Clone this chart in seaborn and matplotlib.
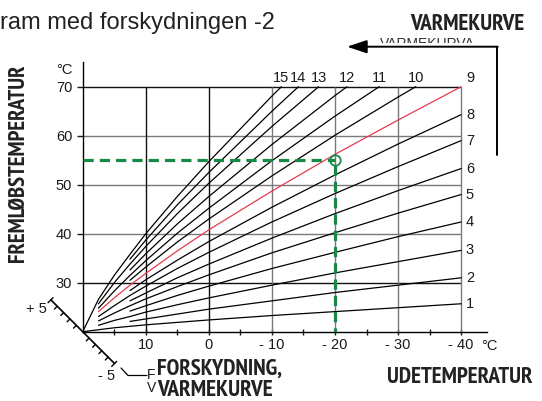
import os
import matplotlib
matplotlib.use("Agg")
import matplotlib.pyplot as plt
from matplotlib import font_manager
from matplotlib.font_manager import FontProperties
from matplotlib.lines import Line2D
from matplotlib.patches import Rectangle, FancyArrowPatch
import matplotlib.transforms as mtransforms
import numpy as np
import pandas as pd
import seaborn as sns

# --- data ---
outdoor_grid = [20, 17.5, 15, 12.5, 10, 5, 0, -10, -20, -30, -40]
flow_1 = [20.0, 20.4, 20.8, 21.1, 21.4, 21.9, 22.4, 23.3, 24.1, 24.9, 25.7]
flow_2 = [None, None, None, 22.1, 22.6, 23.6, 24.6, 26.3, 28.0, 29.5, 31.0]
flow_3 = [None, 21.3, 22.3, 23.1, 24.0, 25.5, 26.9, 29.5, 32.0, 34.3, 36.6]
flow_4 = [None, None, None, 24.2, 25.3, 27.4, 29.3, 32.9, 36.2, 39.4, 42.4]
flow_5 = [None, 22.2, 23.8, 25.3, 26.7, 29.2, 31.6, 36.1, 40.2, 44.2, 48.0]
flow_6 = [None, None, None, 26.3, 27.9, 31.0, 33.8, 39.1, 44.1, 48.8, 53.3]
flow_7 = [None, 23.1, 25.3, 27.4, 29.3, 32.9, 36.2, 42.4, 48.2, 53.7, 59.0]
flow_8 = [None, None, None, 28.4, 30.6, 34.6, 38.4, 45.4, 52.0, 58.3, 64.3]
flow_9 = [None, 24.1, 26.9, 29.5, 31.9, 36.5, 40.8, 48.7, 56.2, 63.2, 70.0]
flow_10 = [None, None, None, 30.5, 33.2, 38.3, 43.0, 51.8, 60.1, 67.9, None]
flow_11 = [None, 24.8, 28.3, 31.5, 34.5, 40.1, 45.2, 54.9, 64.0, None, None]
flow_12 = [None, None, None, 32.6, 35.9, 42.0, 47.6, 58.2, 68.2, None, None]
flow_13 = [None, 25.7, 30.0, 33.8, 37.4, 44.1, 50.3, 61.9, None, None, None]
flow_14 = [None, None, None, 34.8, 38.7, 45.9, 52.5, 65.0, None, None, None]
flow_15 = [20.0, 26.6, 31.5, 35.8, 40.0, 47.6, 54.7, 68.1, None, None, None]
# curves 10..15 run into the 70 degree line at these outdoor temps
top_reach_outdoor = [-32.8, -27.0, -21.9, -17.4, -14.2, -11.5]
top_flow = 70

example_outdoor = -20
example_flow = 55

y_ticks = [30, 40, 50, 60, 70]
x_ticks = [10, 0, -10, -20, -30, -40]
x_tick_labels = ["10", "0", "- 10", "- 20", "- 30", "- 40"]
x_minor = [15, 5, -5, -15, -25, -35]
offset_labels = ["+ 5", "- 5"]

flows = [flow_1, flow_2, flow_3, flow_4, flow_5, flow_6, flow_7, flow_8,
         flow_9, flow_10, flow_11, flow_12, flow_13, flow_14, flow_15]

rows = []
for n, fl in enumerate(flows, start=1):
    for t, v in zip(outdoor_grid, fl):
        if v is not None:
            rows.append((n, t, v))
    if n >= 10:
        rows.append((n, top_reach_outdoor[n - 10], top_flow))
df = pd.DataFrame(rows, columns=["curve", "outdoor", "flow"])

# --- style ---
sns.set_style("ticks")
plt.rcParams["font.family"] = ["Liberation Sans", "DejaVu Sans"]


def pick_condensed_bold():
    # labels in the original use a condensed bold face; take one if present
    prefs = ["narrow", "condensed"]
    found = []
    for f in font_manager.fontManager.ttflist:
        base = os.path.basename(f.fname).lower()
        if "bold" not in base or "italic" in base or "oblique" in base:
            continue
        if any(b in base for b in ("semibold", "extrabold", "semi-bold", "extra-bold",
                                   "semicondensed", "extracondensed", "ultracondensed")):
            continue
        for rank, key in enumerate(prefs):
            if key in base:
                score = rank
                if "liberation" in base:
                    score -= 10
                elif "noto" in base:
                    score -= 5
                found.append((score, f.fname))
    if found:
        found.sort()
        return FontProperties(fname=found[0][1]), 0.92
    return FontProperties(family="Liberation Sans", weight="bold"), 1.0


COND, COND_SCALE = pick_condensed_bold()

RED = "#e63a4f"
GREEN = "#138a45"
DARK = "#111111"
GREY = "#7a7a7a"
TXT = "#1a1a1a"

W, H = 542, 401
fig = plt.figure(figsize=(W / 100, H / 100), dpi=100)
x0, y0, x1, y1 = 82.7, 331.7, 487.0, 62.0
ax = fig.add_axes([x0 / W, 1 - y0 / H, (x1 - x0) / W, (y0 - y1) / H])
ax.set_xlim(20, -44.1)
ax.set_ylim(20, 75.05)
renderer = fig.canvas.get_renderer()


def fpx(x, y):
    return x / W, 1 - y / H


def cond_text(x, y, s, span, size=16, vertical=False, **kw):
    t = fig.text(*fpx(x, y), s, fontproperties=COND, color="#222", **kw)
    t.set_fontsize(size)
    bb = t.get_window_extent(renderer)
    cur = bb.height if vertical else bb.width
    t.set_fontsize(size * span / cur * COND_SCALE)
    return t


# grid (only inside the 20..-40 / 20..70 box)
for yv in y_ticks:
    ax.hlines(yv, 20, -40, color=DARK if yv in (30, 70) else GREY, lw=1.0, zorder=1)
for xv in x_ticks:
    ax.vlines(xv, 20, 70, color=DARK if xv in (10, 0) else GREY, lw=1.0, zorder=1)

palette = {n: (RED if n == 9 else "black") for n in range(1, 16)}
sns.lineplot(data=df, x="outdoor", y="flow", hue="curve", palette=palette,
             estimator=None, legend=False, linewidth=0.9, ax=ax, zorder=3)

# worked example: 55 degrees at -20 outside
ax.plot([20, example_outdoor], [example_flow, example_flow], color=GREEN, lw=2.3,
        dashes=(3.2, 1.9), zorder=4)
ax.plot([example_outdoor, example_outdoor], [example_flow - 0.9, 20], color=GREEN, lw=2.3,
        dashes=(3.2, 1.9), zorder=4)
ax.plot([example_outdoor], [example_flow], marker="o", ms=7.5, mfc="none", mec=GREEN,
        mew=1.3, zorder=5)

# curve numbers
for n in range(1, 9):
    ax.text(-41.4, flows[n - 1][-1], str(n), ha="center", va="center", fontsize=10.5, color=TXT)
ax.text(-41.4, 71.7, "9", ha="center", va="center", fontsize=10.5, color=TXT)
for n, t in zip(range(10, 16), top_reach_outdoor):
    ax.text(t, 71.7, str(n), ha="center", va="center", fontsize=10.5, color=TXT)

# axes look
for s in ("top", "right"):
    ax.spines[s].set_visible(False)
for s in ("left", "bottom"):
    ax.spines[s].set_color("black")
    ax.spines[s].set_linewidth(1.0)
ax.set_yticks(y_ticks)
ax.set_yticklabels([str(v) for v in y_ticks])
ax.set_xticks(x_ticks, labels=x_tick_labels)
ax.set_xticks(x_minor, minor=True)
ax.tick_params(axis="y", direction="out", length=4.3, width=1.0, pad=3.2,
               labelsize=10.5, colors=TXT, left=True)
ax.tick_params(axis="x", which="both", direction="inout", length=4.5, width=1.0, pad=2.0,
               labelsize=10.5, colors=TXT, bottom=True)
ax.set_xlabel("")
ax.set_ylabel("")

# offset scale at the origin (drawn in pixels around the 20/20 corner)
ox, oy = ax.transData.transform((20, 20))
pix = mtransforms.Affine2D().translate(ox, oy)
L = 45.0
u = np.array([-1.0, 1.0]) / np.sqrt(2)
perp = np.array([-1.0, -1.0]) / np.sqrt(2)
fig.add_artist(Line2D([u[0] * L, -u[0] * L], [u[1] * L, -u[1] * L], color="black",
                      lw=1.2, transform=pix))
for side in (1, -1):
    for k in range(1, 6):
        p = side * u * L * k / 5
        if k < 5:
            a, b = p, p + perp * 4.0
        else:
            a, b = p - perp * 3.0, p + perp * 4.0
        fig.add_artist(Line2D([a[0], b[0]], [a[1], b[1]], color="black", lw=1.0, transform=pix))

fig.text(*fpx(36.7, 309), offset_labels[0], ha="center", va="center", fontsize=10.5, color=TXT)
fig.text(*fpx(106.7, 375.5), offset_labels[1], ha="center", va="center", fontsize=10.5, color=TXT)
lx, ly = zip(fpx(121, 368), fpx(128, 375.5), fpx(147, 375.5))
fig.add_artist(Line2D(lx, ly, color="black", lw=0.9, transform=fig.transFigure))
fig.text(*fpx(151, 375), "F", ha="center", va="center", fontsize=10, color=TXT)
fig.text(*fpx(151.5, 388), "V", ha="center", va="center", fontsize=10, color=TXT)
cond_text(157, 375, "FORSKYDNING,", 137, ha="left", va="baseline")
cond_text(157, 401, "VARMEKURVE", 126, ha="left", va="bottom")

# axis titles / units
fig.text(*fpx(64, 70), "°C", ha="center", va="center", fontsize=10.5, color=TXT)
fig.text(*fpx(489, 346.5), "°C", ha="center", va="center", fontsize=10.5, color=TXT)
cond_text(460, 383, "UDETEMPERATUR", 159, ha="center", va="baseline")
cond_text(18.5, 163, "FREMLØBSTEMPERATUR", 216, vertical=True, rotation=90,
          ha="center", va="center")

# header
fig.text(*fpx(0, 28.5), "ram med forskydningen -2", ha="left", va="baseline", fontsize=17, color="#222")
cond_text(524, 30, "VARMEKURVE", 125, ha="right", va="baseline")
t = fig.text(*fpx(380, 48), "VARMEKURVA", ha="left", va="baseline", fontsize=10, color="#333")
t.set_zorder(3)
rx, ry = fpx(370, 42.5)
fig.add_artist(Rectangle((rx, ry - 8 / H), 115 / W, 8 / H, transform=fig.transFigure,
                         facecolor="white", edgecolor="none", zorder=4))
vx0, vy0 = fpx(497, 155)
vx1, vy1 = fpx(497, 46.7)
fig.add_artist(Line2D([vx0, vx1], [vy0, vy1], color="black", lw=1.4,
                      transform=fig.transFigure, zorder=5))
arrow = FancyArrowPatch(fpx(497.7, 46.7), fpx(347, 46.7), transform=fig.transFigure,
                        arrowstyle="-|>,head_length=1.2,head_width=0.4", mutation_scale=10,
                        color="black", lw=1.4, shrinkA=0, shrinkB=0, zorder=5)
fig.add_artist(arrow)

fig.savefig("out.png", dpi=100)
